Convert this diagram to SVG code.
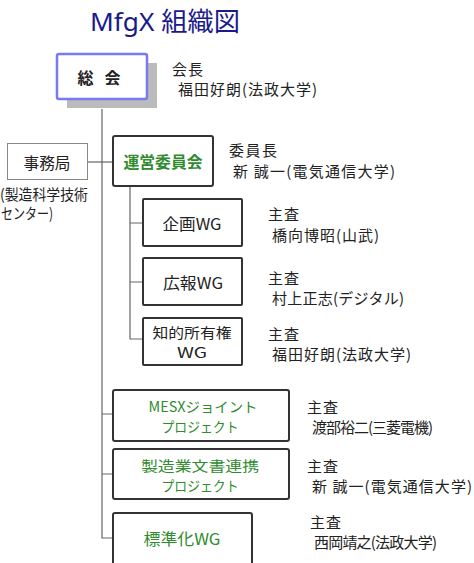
<svg xmlns="http://www.w3.org/2000/svg" width="474" height="563" viewBox="0 0 474 563">
<style>
.t{font-family:"Noto Sans CJK JP","Liberation Sans",sans-serif;font-size:15px;fill:#222}
.n{font-family:"Noto Sans CJK JP","Liberation Sans",sans-serif;font-size:16px;fill:#222;text-anchor:middle;dominant-baseline:central}
.n2{font-size:14px}
.g{fill:#2e8b2e}
.box{fill:#fff;stroke:#333;stroke-width:2}
.ln{stroke:#666;stroke-width:1.2;fill:none}
</style>
<rect width="474" height="563" fill="#fff"/>
<text x="90" y="31" textLength="150" lengthAdjust="spacingAndGlyphs" style="font-family:'Noto Sans','Noto Sans CJK JP',sans-serif;font-size:26px;fill:#1a1a8c">MfgX 組織図</text>
<g id="connectors">
<path class="ln" d="M102 109V538H113"/>
<path class="ln" d="M88 162H113"/>
<path class="ln" d="M130 186V339H143M130 223H143M130 282H143"/>
<path class="ln" d="M102 414H113M102 474H113"/>
</g>
<g id="soukai">
<rect x="67" y="63" width="90" height="45" fill="#bbb"/>
<rect x="57" y="54" width="90" height="45" rx="2" fill="#fff" stroke="#7a7af0" stroke-width="2.5"/>
<text class="n" x="99" y="77" textLength="43" style="font-weight:bold">総 会</text>
<text class="t" x="172" y="75" textLength="31">会長</text>
<text class="t" x="178" y="95" textLength="139">福田好朗(法政大学)</text>
</g>
<g id="jimukyoku">
<rect x="7.5" y="143.5" width="80" height="36" fill="#fff" stroke="#888" stroke-width="1"/>
<text class="n" x="47" y="162" textLength="47" lengthAdjust="spacingAndGlyphs">事務局</text>
<text class="t" x="0" y="200" textLength="88" lengthAdjust="spacingAndGlyphs">(製造科学技術</text>
<text class="t" x="1" y="219" textLength="52" lengthAdjust="spacingAndGlyphs">センター)</text>
</g>
<g id="unei">
<rect class="box" x="113" y="136" width="100" height="50" rx="2"/>
<text class="n g" x="163" y="161" textLength="79" lengthAdjust="spacingAndGlyphs" style="font-weight:bold">運営委員会</text>
<text class="t" x="229" y="156" textLength="48">委員長</text>
<text class="t" x="233" y="177" textLength="162">新 誠一(電気通信大学)</text>
</g>
<g id="kikaku">
<rect class="box" x="143" y="199" width="99" height="47" rx="1"/>
<text class="n" x="192" y="223" textLength="59" lengthAdjust="spacingAndGlyphs">企画WG</text>
<text class="t" x="268" y="220" textLength="31">主査</text>
<text class="t" x="272" y="241" textLength="107">橋向博昭(山武)</text>
</g>
<g id="kouhou">
<rect class="box" x="143" y="258" width="99" height="47" rx="1"/>
<text class="n" x="193" y="282" textLength="60" lengthAdjust="spacingAndGlyphs">広報WG</text>
<text class="t" x="268" y="284" textLength="31">主査</text>
<text class="t" x="272" y="304" textLength="132">村上正志(デジタル)</text>
</g>
<g id="chiteki">
<rect class="box" x="143" y="318" width="99" height="47" rx="1"/>
<text class="n n2" x="192" y="331.5" textLength="79" lengthAdjust="spacingAndGlyphs">知的所有権</text>
<text class="n n2" x="192" y="351.5" textLength="30" lengthAdjust="spacingAndGlyphs">WG</text>
<text class="t" x="268" y="340" textLength="31">主査</text>
<text class="t" x="272" y="360" textLength="139">福田好朗(法政大学)</text>
</g>
<g id="mesx">
<rect class="box" x="113" y="390" width="176" height="51" rx="2"/>
<text class="n n2 g" x="203" y="405.5" textLength="109" lengthAdjust="spacingAndGlyphs">MESXジョイント</text>
<text class="n n2 g" x="200" y="425.5" textLength="77" lengthAdjust="spacingAndGlyphs">プロジェクト</text>
<text class="t" x="307" y="413" textLength="31">主査</text>
<text class="t" x="312" y="433" textLength="121">渡部裕二(三菱電機)</text>
</g>
<g id="bunsho">
<rect class="box" x="113" y="449" width="176" height="50" rx="2"/>
<text class="n n2 g" x="200" y="464.5" textLength="118" lengthAdjust="spacingAndGlyphs">製造業文書連携</text>
<text class="n n2 g" x="200" y="484.5" textLength="77" lengthAdjust="spacingAndGlyphs">プロジェクト</text>
<text class="t" x="307" y="472" textLength="31">主査</text>
<text class="t" x="312" y="492" textLength="160">新 誠一(電気通信大学)</text>
</g>
<g id="hyoujun">
<rect class="box" x="113" y="513" width="139" height="52" rx="2"/>
<text class="n g" x="182" y="538" textLength="77" lengthAdjust="spacingAndGlyphs">標準化WG</text>
<text class="t" x="310" y="528" textLength="31">主査</text>
<text class="t" x="314" y="548" textLength="123">西岡靖之(法政大学)</text>
</g>
</svg>
